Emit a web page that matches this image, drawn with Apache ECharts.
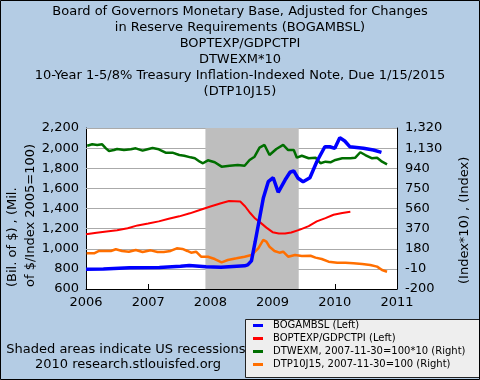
<!DOCTYPE html>
<html><head><meta charset="utf-8">
<script src="https://cdn.jsdelivr.net/npm/echarts@6/dist/echarts.min.js"></script>
<style>
html,body{margin:0;padding:0;background:#b4cce4;}
#wrap{position:relative;width:480px;height:380px;}
#bg{position:absolute;left:86px;top:128px;width:311px;height:161px;background:#ffffff;z-index:0;}
#c{position:absolute;left:0;top:0;width:480px;height:380px;z-index:1;}
</style>
</head><body><div id="wrap"><div id="bg"></div><div id="c"></div></div>
<script>
// ---- data (decimal years) ----
const xTicks = [2006, 2007, 2008, 2009, 2010, 2011];
const leftTicks = [600, 800, 1000, 1200, 1400, 1600, 1800, 2000, 2200];
const rightTicks = [-200, -10, 180, 370, 560, 750, 940, 1130, 1320];

const bogT = [2006.00, 2006.28, 2006.30, 2006.70, 2007.18, 2007.21, 2007.52, 2007.55, 2007.66, 2007.68, 2007.93, 2007.96, 2008.17, 2008.20, 2008.55, 2008.60, 2008.66, 2008.72, 2008.80, 2008.85, 2008.93, 2009.01, 2009.09, 2009.20, 2009.28, 2009.34, 2009.41, 2009.49, 2009.60, 2009.71, 2009.84, 2009.92, 2010.00, 2010.08, 2010.16, 2010.24, 2010.46, 2010.62, 2010.75];
const bogV = [796, 798, 810, 812, 814, 824, 826, 836, 834, 822, 822, 812, 815, 828, 830, 840, 880, 1070, 1335, 1501, 1666, 1706, 1561, 1683, 1760, 1773, 1700, 1666, 1706, 1865, 2014, 2014, 1998, 2104, 2071, 2014, 1998, 1981, 1958];

const bopT = [2006.00, 2006.17, 2006.33, 2006.50, 2006.67, 2006.83, 2007.00, 2007.17, 2007.33, 2007.50, 2007.67, 2007.83, 2008.00, 2008.17, 2008.30, 2008.48, 2008.56, 2008.64, 2008.72, 2008.80, 2008.90, 2009.00, 2009.10, 2009.20, 2009.30, 2009.44, 2009.58, 2009.71, 2009.85, 2009.98, 2010.12, 2010.25];
const bopV = [1144, 1160, 1172, 1183, 1203, 1232, 1250, 1272, 1298, 1322, 1352, 1385, 1420, 1452, 1474, 1470, 1420, 1355, 1300, 1262, 1210, 1165, 1152, 1152, 1162, 1190, 1225, 1272, 1305, 1338, 1355, 1368];

const dtwT = [2006.02, 2006.10, 2006.18, 2006.26, 2006.32, 2006.37, 2006.45, 2006.50, 2006.61, 2006.72, 2006.80, 2006.91, 2006.99, 2007.07, 2007.17, 2007.28, 2007.39, 2007.50, 2007.58, 2007.68, 2007.75, 2007.83, 2007.88, 2007.96, 2008.07, 2008.18, 2008.31, 2008.44, 2008.55, 2008.63, 2008.71, 2008.79, 2008.87, 2008.95, 2009.06, 2009.17, 2009.25, 2009.34, 2009.39, 2009.47, 2009.58, 2009.69, 2009.77, 2009.85, 2009.93, 2010.01, 2010.12, 2010.25, 2010.33, 2010.41, 2010.49, 2010.60, 2010.68, 2010.76, 2010.84];
const dtwV = [1153, 1166, 1160, 1166, 1128, 1103, 1112, 1122, 1112, 1119, 1128, 1106, 1119, 1131, 1119, 1087, 1087, 1065, 1058, 1043, 1034, 1002, 987, 1015, 996, 955, 964, 971, 964, 1018, 1049, 1134, 1160, 1065, 1122, 1160, 1112, 1112, 1040, 1058, 1034, 1040, 987, 1002, 996, 1018, 1034, 1034, 1040, 1091, 1065, 1034, 1040, 1002, 977];

const dtpT = [2006.01, 2006.13, 2006.21, 2006.29, 2006.40, 2006.48, 2006.58, 2006.69, 2006.80, 2006.91, 2007.04, 2007.15, 2007.25, 2007.36, 2007.46, 2007.55, 2007.63, 2007.69, 2007.77, 2007.85, 2007.96, 2008.07, 2008.18, 2008.28, 2008.42, 2008.55, 2008.66, 2008.77, 2008.85, 2008.90, 2008.95, 2009.03, 2009.11, 2009.17, 2009.25, 2009.36, 2009.47, 2009.61, 2009.69, 2009.79, 2009.90, 2010.04, 2010.17, 2010.30, 2010.44, 2010.57, 2010.68, 2010.76, 2010.84];
const dtpV = [137, 137, 159, 159, 159, 175, 159, 152, 168, 149, 165, 149, 149, 159, 184, 178, 159, 143, 152, 105, 105, 83, 52, 74, 90, 105, 121, 184, 263, 247, 199, 159, 143, 152, 105, 121, 112, 114, 96, 83, 58, 48, 48, 43, 36, 27, 11, -21, -37];

const recession = [2007.92, 2009.42];

const names = ['BOGAMBSL (Left)', 'BOPTEXP/GDPCTPI (Left)', 'DTWEXM, 2007-11-30=100*10 (Right)', 'DTP10J15, 2007-11-30=100 (Right)'];
const colors = ['#0000ff', '#ff0000', '#006e00', '#ff6f00'];

const zip = (a, b) => a.map((t, i) => [t, b[i]]);
const fmt = v => String(v).replace(/\B(?=(\d{3})+(?!\d))/g, ',');
const FONT = 'DejaVu Sans';

const chart = echarts.init(document.getElementById('c'), null, {renderer: 'canvas'});
chart.setOption({
  backgroundColor: 'transparent',
  animation: false,
  textStyle: {fontFamily: FONT},
  title: {
    text: 'Board of Governors Monetary Base, Adjusted for Changes\nin Reserve Requirements (BOGAMBSL)\nBOPTEXP/GDPCTPI\nDTWEXM*10\n10-Year 1-5/8% Treasury Inflation-Indexed Note, Due 1/15/2015\n(DTP10J15)',
    left: 'center', top: 4, padding: 0,
    textStyle: {fontFamily: FONT, fontSize: 13, fontWeight: 'normal', color: '#000', lineHeight: 16, align: 'center'}
  },
  grid: {left: 86, right: 83, top: 128, bottom: 91, show: false},
  xAxis: {
    type: 'value', min: xTicks[0], max: xTicks[xTicks.length - 1], interval: 1,
    axisLine: {show: true, onZero: false, lineStyle: {color: '#000', width: 1}},
    axisTick: {show: true, inside: true, length: 5, lineStyle: {color: '#000'}},
    axisLabel: {color: '#000', fontSize: 13, fontFamily: FONT, margin: 7, formatter: v => String(Math.round(v))},
    splitLine: {show: false}
  },
  yAxis: [{
    type: 'value', min: leftTicks[0], max: leftTicks[leftTicks.length - 1], interval: 200, position: 'left',
    axisLine: {show: true, onZero: false, lineStyle: {color: '#000', width: 1}},
    axisTick: {show: true, inside: true, length: 6, lineStyle: {color: '#000'}},
    axisLabel: {color: '#000', fontSize: 13, fontFamily: FONT, margin: 7, formatter: fmt},
    splitLine: {show: true, lineStyle: {color: '#aaaaaa', width: 1}}
  }, {
    type: 'value', min: rightTicks[0], max: rightTicks[rightTicks.length - 1], interval: 190, position: 'right',
    axisLine: {show: true, onZero: false, lineStyle: {color: '#000', width: 1}},
    axisTick: {show: true, inside: true, length: 5, lineStyle: {color: '#000'}},
    axisLabel: {color: '#000', fontSize: 13, fontFamily: FONT, margin: 8, formatter: fmt},
    splitLine: {show: false}
  }],
  legend: {
    orient: 'vertical', left: 253, top: 319, padding: 0, itemGap: 0,
    itemWidth: 10, itemHeight: 3, icon: 'rect', z: 30,
    data: names,
    textStyle: {fontFamily: FONT, fontSize: 10, color: '#000', lineHeight: 13, padding: [0, 0, 0, 5]}
  },
  series: [
    {name: names[3], type: 'line', yAxisIndex: 1, showSymbol: false, data: zip(dtpT, dtpV),
     lineStyle: {color: colors[3], width: 2.5}, itemStyle: {color: colors[3]},
     markLine: {silent: true, z: 0.5, symbol: ['none', 'none'], label: {show: false}, emphasis: {disabled: true},
                lineStyle: {color: '#aaaaaa', width: 1, type: 'solid'},
                data: rightTicks.slice(1).map(v => ({yAxis: v}))},
     markArea: {silent: true, z: 1, itemStyle: {color: '#bebebe', opacity: 1},
                data: [[{xAxis: recession[0]}, {xAxis: recession[1]}]]}},
    {name: names[2], type: 'line', yAxisIndex: 1, showSymbol: false, data: zip(dtwT, dtwV),
     lineStyle: {color: colors[2], width: 2.5}, itemStyle: {color: colors[2]}},
    {name: names[1], type: 'line', yAxisIndex: 0, showSymbol: false, data: zip(bopT, bopV),
     lineStyle: {color: colors[1], width: 2}, itemStyle: {color: colors[1]}},
    {name: names[0], type: 'line', yAxisIndex: 0, showSymbol: false, data: zip(bogT, bogV),
     lineStyle: {color: colors[0], width: 3.5}, itemStyle: {color: colors[0]}}
  ],
  graphic: [
    {type: 'text', x: 22, y: 287, rotation: Math.PI / 2, z: 5,
     style: {text: '(Bil. of $) , (Mil.\nof $/Index 2005=100)', fontFamily: FONT, fontSize: 13, fill: '#000',
             lineHeight: 18, align: 'left', verticalAlign: 'middle', textAlign: 'left', textVerticalAlign: 'middle'}},
    {type: 'text', x: 465, y: 284, rotation: Math.PI / 2, z: 5,
     style: {text: '(Index*10) , (Index)', fontFamily: FONT, fontSize: 13, fill: '#000',
             align: 'left', verticalAlign: 'middle', textAlign: 'left', textVerticalAlign: 'middle'}},
    {type: 'text', x: 128, y: 357, z: 5,
     style: {text: 'Shaded areas indicate US recessions.\n2010 research.stlouisfed.org', fontFamily: FONT, fontSize: 13, fill: '#000',
             lineHeight: 15, align: 'center', verticalAlign: 'middle', textAlign: 'center', textVerticalAlign: 'middle'}},
    {type: 'rect', z: 20, shape: {x: 245.5, y: 319.5, width: 234, height: 58},
     style: {fill: '#eeeeee', stroke: '#222', lineWidth: 1}},
    {type: 'rect', z: 40, shape: {x: 0.5, y: 0.5, width: 479, height: 379},
     style: {fill: 'none', stroke: '#000', lineWidth: 1}}
  ]
});
</script></body></html>
